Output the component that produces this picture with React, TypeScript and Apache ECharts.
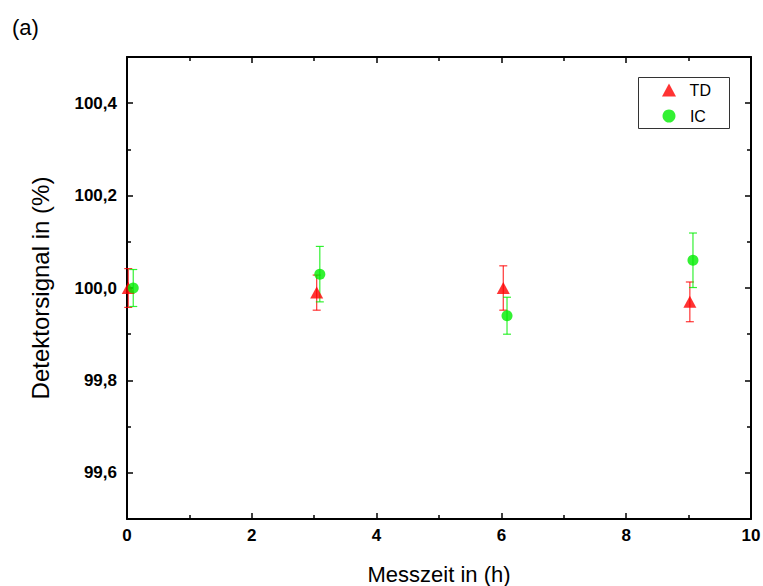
import React, { useEffect, useRef } from "react";
import * as echarts from "echarts";

const timeTD = [0.02, 3.04, 6.03, 9.02];
const signalTD = [100.0, 99.99, 100.0, 99.97];
const errTD = [0.042, 0.038, 0.048, 0.043];

const timeIC = [0.1, 3.09, 6.09, 9.07];
const signalIC = [100.0, 100.03, 99.94, 100.06];
const errIC = [0.04, 0.06, 0.04, 0.059];

const yMajor = [99.6, 99.8, 100.0, 100.2, 100.4];
const yMinor = [99.5, 99.7, 99.9, 100.1, 100.3, 100.5];

const RED = "#ff0000";
const GREEN = "#00ee00";
const FONT = "Liberation Sans, Arial, sans-serif";

function errSeries(name: string, xs: number[], ys: number[], es: number[], color: string) {
  return {
    type: "custom",
    name: name + "_err",
    xAxisIndex: 0,
    yAxisIndex: 0,
    data: xs.map((x, i) => [x, ys[i], es[i]]),
    encode: { x: 0, y: 1 },
    silent: true,
    z: 2,
    renderItem: (params: any, api: any) => {
      const x = api.value(0);
      const y = api.value(1);
      const e = api.value(2);
      const top = api.coord([x, y + e]);
      const bot = api.coord([x, y - e]);
      const hw = 4;
      const style = { stroke: color, lineWidth: 1.2, opacity: 0.8 };
      return {
        type: "group",
        children: [
          { type: "line", shape: { x1: top[0], y1: top[1], x2: bot[0], y2: bot[1] }, style },
          { type: "line", shape: { x1: top[0] - hw, y1: top[1], x2: top[0] + hw, y2: top[1] }, style },
          { type: "line", shape: { x1: bot[0] - hw, y1: bot[1], x2: bot[0] + hw, y2: bot[1] }, style },
        ],
      };
    },
  };
}

export default function App() {
  const ref = useRef<HTMLDivElement>(null);
  useEffect(() => {
    if (!ref.current) return;
    const chart = echarts.init(ref.current, null, { renderer: "svg" });
    const fmt = (v: number) => v.toFixed(1).replace(".", ",");
    const axisLine = { show: true, onZero: false, lineStyle: { color: "#000", width: 2 } };
    const tickStyle = { color: "#000", width: 1.5 };
    chart.setOption({
      animation: false,
      backgroundColor: "#fff",
      grid: { left: 127, right: 12, top: 57, bottom: 67, outerBoundsMode: "none", containLabel: false },
      graphic: [
        {
          type: "text",
          left: 12,
          top: 16,
          style: { text: "(a)", font: `22px ${FONT}`, fill: "#000" },
        },
        {
          type: "rect",
          shape: { x: 638.5, y: 77.5, width: 91, height: 51 },
          style: { fill: "none", stroke: "#333", lineWidth: 1 },
          z: 10,
        },
      ],
      legend: {
        orient: "vertical",
        left: 662,
        top: 82,
        padding: 0,
        itemWidth: 14,
        itemHeight: 13,
        itemGap: 10,
        data: [
          { name: "TD", icon: "triangle" },
          { name: "IC", icon: "circle" },
        ],
        formatter: (n: string) => "  " + n,
        textStyle: { fontFamily: FONT, fontSize: 16, color: "#000" },
      },
      xAxis: [
        {
          type: "value",
          min: 0,
          max: 10,
          interval: 2,
          position: "bottom",
          axisLine,
          axisTick: { show: true, inside: true, length: 6, lineStyle: tickStyle },
          minorTick: { show: true, splitNumber: 2, length: 4, lineStyle: tickStyle },
          axisLabel: { fontFamily: FONT, fontSize: 17, fontWeight: "bold", color: "#000", margin: 8 },
          splitLine: { show: false },
          minorSplitLine: { show: false },
          name: "Messzeit in (h)",
          nameLocation: "middle",
          nameGap: 44,
          nameTextStyle: { fontFamily: FONT, fontSize: 22, color: "#000" },
        },
        {
          type: "value",
          min: 0,
          max: 10,
          interval: 2,
          position: "top",
          axisLine,
          axisTick: { show: true, inside: true, length: 6, lineStyle: tickStyle },
          minorTick: { show: true, splitNumber: 2, length: 4, lineStyle: tickStyle },
          axisLabel: { show: false },
          splitLine: { show: false },
        },
      ],
      yAxis: [
        {
          type: "value",
          min: 99.5,
          max: 100.5,
          interval: 0.1,
          position: "left",
          axisLine,
          axisTick: { show: true, inside: true, length: 6, customValues: yMajor, lineStyle: tickStyle },
          axisLabel: {
            customValues: yMajor,
            formatter: fmt,
            fontFamily: FONT,
            fontSize: 17,
            fontWeight: "bold",
            color: "#000",
            margin: 10,
          },
          splitLine: { show: false },
          name: "Detektorsignal in (%)",
          nameLocation: "middle",
          nameGap: 75,
          nameTextStyle: { fontFamily: FONT, fontSize: 24, color: "#000" },
        },
        {
          type: "value",
          min: 99.5,
          max: 100.5,
          interval: 0.1,
          position: "right",
          axisLine,
          axisTick: { show: true, inside: true, length: 6, customValues: yMajor, lineStyle: tickStyle },
          axisLabel: { show: false },
          splitLine: { show: false },
        },
        {
          type: "value",
          min: 99.5,
          max: 100.5,
          interval: 0.1,
          position: "left",
          axisLine: { show: false, onZero: false },
          axisTick: { show: true, inside: true, length: 4, customValues: yMinor, lineStyle: tickStyle },
          axisLabel: { show: false },
          splitLine: { show: false },
        },
        {
          type: "value",
          min: 99.5,
          max: 100.5,
          interval: 0.1,
          position: "right",
          axisLine: { show: false, onZero: false },
          axisTick: { show: true, inside: true, length: 4, customValues: yMinor, lineStyle: tickStyle },
          axisLabel: { show: false },
          splitLine: { show: false },
        },
      ],
      series: [
        errSeries("TD", timeTD, signalTD, errTD, RED),
        {
          type: "scatter",
          name: "TD",
          symbol: "triangle",
          symbolSize: [13, 12],
          itemStyle: { color: RED },
          data: timeTD.map((x, i) => [x, signalTD[i]]),
          z: 3,
        },
        errSeries("IC", timeIC, signalIC, errIC, GREEN),
        {
          type: "scatter",
          name: "IC",
          symbol: "circle",
          symbolSize: 11,
          itemStyle: { color: GREEN },
          data: timeIC.map((x, i) => [x, signalIC[i]]),
          z: 4,
        },
      ],
    });
    return () => chart.dispose();
  }, []);
  return (
    <div
      ref={ref}
      style={{ position: "fixed", left: 0, top: 0, width: 763, height: 586 }}
    />
  );
}
